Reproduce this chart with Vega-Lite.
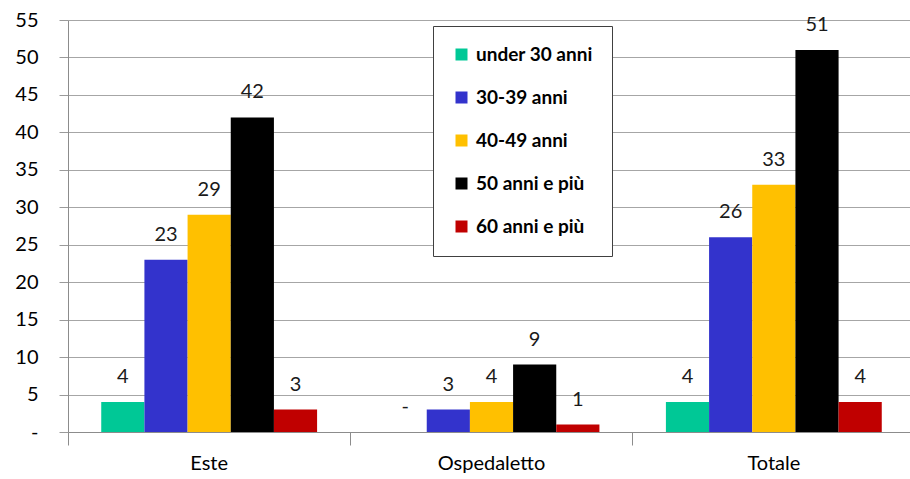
{
  "$schema": "https://vega.github.io/schema/vega-lite/v6.json",
  "width": 847,
  "height": 412,
  "autosize": {"type": "none"},
  "padding": {"left": 68, "top": 20, "right": 0, "bottom": 47},
  "background": "white",
  "config": {
    "view": {"stroke": null},
    "font": "Lato"
  },
  "data": {
    "values": [
      {"area": "Este", "group": "under 30 anni", "value": 4},
      {"area": "Este", "group": "30-39 anni", "value": 23},
      {"area": "Este", "group": "40-49 anni", "value": 29},
      {"area": "Este", "group": "50 anni e più", "value": 42},
      {"area": "Este", "group": "60 anni e più", "value": 3},
      {"area": "Ospedaletto", "group": "under 30 anni", "value": 0},
      {"area": "Ospedaletto", "group": "30-39 anni", "value": 3},
      {"area": "Ospedaletto", "group": "40-49 anni", "value": 4},
      {"area": "Ospedaletto", "group": "50 anni e più", "value": 9},
      {"area": "Ospedaletto", "group": "60 anni e più", "value": 1},
      {"area": "Totale", "group": "under 30 anni", "value": 4},
      {"area": "Totale", "group": "30-39 anni", "value": 26},
      {"area": "Totale", "group": "40-49 anni", "value": 33},
      {"area": "Totale", "group": "50 anni e più", "value": 51},
      {"area": "Totale", "group": "60 anni e più", "value": 4}
    ]
  },
  "transform": [
    {"calculate": "datum.value == 0 ? '-' : '' + datum.value", "as": "label"}
  ],
  "encoding": {
    "x": {
      "field": "area",
      "type": "nominal",
      "sort": ["Este", "Ospedaletto", "Totale"],
      "scale": {"paddingInner": 0, "paddingOuter": 0},
      "axis": {
        "title": null,
        "labelAngle": 0,
        "labelFontSize": 20,
        "labelColor": "#000000",
        "labelPadding": 8,
        "bandPosition": 0,
        "tickSize": 13,
        "tickColor": "#8c8c8c",
        "domainColor": "#8c8c8c",
        "grid": false
      }
    },
    "xOffset": {
      "field": "group",
      "type": "nominal",
      "sort": ["under 30 anni", "30-39 anni", "40-49 anni", "50 anni e più", "60 anni e più"],
      "scale": {"paddingInner": 0, "paddingOuter": 0.77}
    },
    "y": {
      "field": "value",
      "type": "quantitative",
      "scale": {"domain": [0, 55], "nice": false},
      "axis": {
        "title": null,
        "values": [0, 5, 10, 15, 20, 25, 30, 35, 40, 45, 50, 55],
        "labelExpr": "datum.value == 0 ? '-' : datum.label",
        "labelFontSize": 20,
        "labelColor": "#000000",
        "labelPadding": 21,
        "tickSize": 9,
        "tickColor": "#9a9a9a",
        "domainColor": "#8c8c8c",
        "gridColor": "#a6a6a6",
        "gridWidth": 1
      }
    }
  },
  "layer": [
    {
      "mark": {"type": "bar"},
      "encoding": {
        "color": {
          "field": "group",
          "type": "nominal",
          "scale": {
            "domain": ["under 30 anni", "30-39 anni", "40-49 anni", "50 anni e più", "60 anni e più"],
            "range": ["#00C896", "#3333CC", "#FFC000", "#000000", "#C00000"]
          },
          "legend": {
            "title": null,
            "orient": "none",
            "legendX": 365,
            "legendY": 6,
            "direction": "vertical",
            "symbolType": "square",
            "symbolSize": 144,
            "symbolStrokeWidth": 0,
            "labelFontSize": 19,
            "labelFontWeight": "bold",
            "labelColor": "#000000",
            "labelLimit": 300,
            "labelOffset": 5,
            "rowPadding": 23,
            "padding": 19,
            "strokeColor": "#404040",
            "fillColor": "white",
            "cornerRadius": 0
          }
        }
      }
    },
    {
      "mark": {"type": "text", "baseline": "bottom", "dy": -15, "fontSize": 20, "color": "#1a1a1a"},
      "encoding": {
        "text": {"field": "label", "type": "nominal"}
      }
    }
  ]
}
